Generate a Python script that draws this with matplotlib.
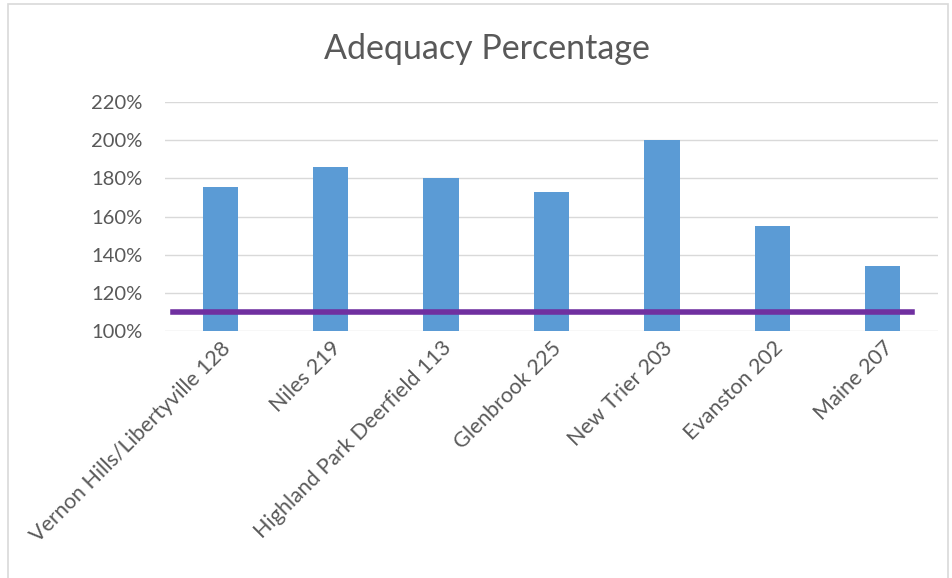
import matplotlib
matplotlib.use("Agg")
import matplotlib.pyplot as plt
from matplotlib.patches import Rectangle
from matplotlib.ticker import FuncFormatter

categories = ["Vernon Hills/Libertyville 128", "Niles 219", "Highland Park Deerfield 113",
              "Glenbrook 225", "New Trier 203", "Evanston 202", "Maine 207"]
values = [175.5, 186, 180, 173, 200, 155, 134]
threshold = 110
yticks = [100, 120, 140, 160, 180, 200, 220]

plt.rcParams['font.family'] = ['Lato', 'DejaVu Sans']

fig = plt.figure(figsize=(9.53, 5.78), dpi=100)
ax = fig.add_axes([165/953, 1-331/578, 773/953, 229/578])

x = list(range(len(categories)))
ax.bar(x, values, width=0.32, color="#5b9bd5", zorder=2)
ax.axhline(threshold, xmin=0.01, xmax=0.966, color="#7030a0", lw=4, zorder=3)

ax.set_xlim(-0.5, len(categories)-0.5)
ax.set_ylim(100, 220)
ax.set_yticks(yticks)
ax.yaxis.set_major_formatter(FuncFormatter(lambda v, p: f"{v:.0f}%"))
ax.grid(axis="y", color="#d9d9d9", lw=1, zorder=0)
for s in ax.spines.values():
    s.set_visible(False)
ax.tick_params(axis="both", length=0, colors="#595959")
ax.tick_params(axis="y", pad=16, labelsize=14.5)
ax.set_xticks(x)
ax.set_xticklabels(categories, rotation=45, ha="right", rotation_mode="anchor", fontsize=15.5)
ax.tick_params(axis="x", pad=5)

fig.text(487/953, 1-49/578, "Adequacy Percentage", ha="center", va="center",
         fontsize=24.5, color="#595959")

fig.patches.append(Rectangle((8/953, -0.01), (948-8)/953, 1-4/578+0.01, transform=fig.transFigure,
                             fill=False, edgecolor="#d9d9d9", lw=1.2))

fig.savefig("out.png", dpi=100, facecolor="white")
